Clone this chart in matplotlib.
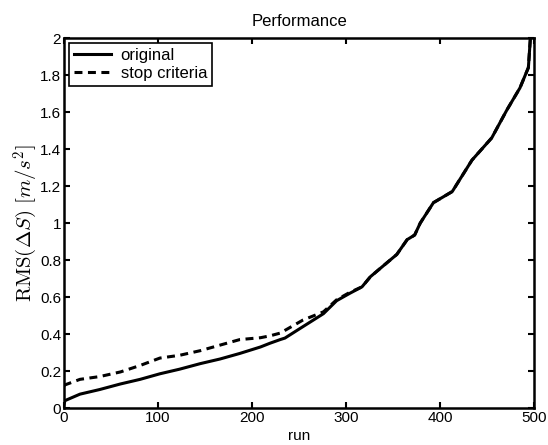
import numpy as np
import matplotlib
matplotlib.use("Agg")
import matplotlib.pyplot as plt

plt.rcParams["font.family"] = ["Liberation Sans", "DejaVu Sans"]
plt.rcParams["mathtext.fontset"] = "cm"

# sorted RMS error per run
run_orig = [0, 1, 17, 38, 60, 81, 102, 123, 145, 166, 187, 209, 219, 230, 235,
            248, 262, 276, 290, 304, 317, 326, 340, 354, 365, 373, 379, 393,
            413, 434, 455, 471, 485, 494, 496, 498]
rms_orig = [0.02, 0.04, 0.075, 0.1, 0.13, 0.155, 0.185, 0.21, 0.24, 0.265,
            0.295, 0.33, 0.35, 0.37, 0.378, 0.42, 0.465, 0.51, 0.58, 0.62,
            0.655, 0.71, 0.77, 0.83, 0.91, 0.935, 1.0, 1.11, 1.17, 1.34, 1.46,
            1.61, 1.73, 1.84, 1.99, 2.05]

run_stop = [0, 1, 17, 38, 60, 81, 102, 123, 145, 166, 187, 209, 219, 230, 254,
            276, 290, 304, 317, 326, 340, 354, 365, 373, 379, 393, 413, 434,
            455, 471, 485, 494, 496, 498]
rms_stop = [0.12, 0.125, 0.155, 0.17, 0.195, 0.23, 0.27, 0.285, 0.31, 0.34,
            0.37, 0.38, 0.39, 0.405, 0.475, 0.52, 0.585, 0.625, 0.655, 0.71,
            0.77, 0.83, 0.91, 0.935, 1.0, 1.11, 1.17, 1.34, 1.46, 1.61, 1.73,
            1.84, 1.99, 2.05]

fig = plt.figure(figsize=(5.48, 4.45), dpi=100)
ax = fig.add_axes([0.1168, 0.0831, 0.8577, 0.8315])

ax.plot(run_orig, rms_orig, color="black", lw=2.2, label="original")
ax.plot(run_stop, rms_stop, color="black", lw=2.2, ls=(0, (2.6, 1.8)),
        label="stop criteria")

ax.set_xlim(0, 500)
ax.set_ylim(0, 2)
ax.set_xticks(np.arange(0, 501, 100))
ax.set_yticks(np.arange(0, 2.01, 0.2))
ax.set_yticklabels(["0", "0.2", "0.4", "0.6", "0.8", "1", "1.2", "1.4", "1.6", "1.8", "2"])
ax.tick_params(direction="in", length=4, width=1.5, top=True, right=True,
               labelsize=11, pad=2)
for s in ax.spines.values():
    s.set_linewidth(1.8)

ax.set_title("Performance", fontsize=12, pad=9)
ax.set_xlabel("run", fontsize=11, labelpad=3)
ax.set_ylabel(r"$\mathrm{RMS}(\Delta S)\ [m/s^2]$", fontsize=15, labelpad=0)

leg = ax.legend(loc="upper left", fontsize=12, fancybox=False, framealpha=1,
                edgecolor="black", handlelength=2.2, borderaxespad=0.3,
                borderpad=0.3, labelspacing=0.15, handletextpad=0.6)
leg.get_frame().set_linewidth(1.2)

fig.savefig("out.png", dpi=100)
